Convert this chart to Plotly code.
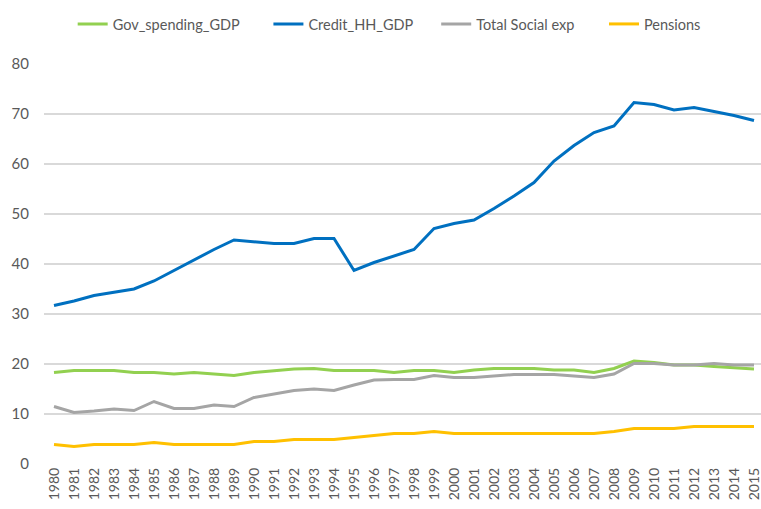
import plotly.graph_objects as go

years = list(range(1980, 2016))

gov_spending_gdp = [18.3, 18.7, 18.7, 18.7, 18.3, 18.3, 18.0, 18.3, 18.0, 17.7,
                    18.3, 18.7, 19.0, 19.1, 18.7, 18.7, 18.7, 18.3, 18.7, 18.7,
                    18.3, 18.8, 19.1, 19.1, 19.1, 18.8, 18.8, 18.3, 19.1, 20.6,
                    20.3, 19.8, 19.8, 19.5, 19.3, 19.0]
credit_hh_gdp = [31.7, 32.6, 33.7, 34.3, 35.0, 36.6, 38.7, 40.8, 42.9, 44.8,
                 44.5, 44.1, 44.1, 45.1, 45.1, 38.7, 40.3, 41.6, 42.9, 47.1,
                 48.1, 48.8, 51.1, 53.6, 56.3, 60.6, 63.7, 66.3, 67.6, 72.3,
                 71.9, 70.8, 71.3, 70.5, 69.7, 68.7]
total_social_exp = [11.5, 10.3, 10.6, 11.0, 10.7, 12.5, 11.1, 11.1, 11.8, 11.5,
                    13.3, 14.0, 14.7, 15.0, 14.7, 15.8, 16.8, 16.9, 16.9, 17.7,
                    17.3, 17.3, 17.6, 17.9, 17.9, 17.9, 17.6, 17.3, 18.0, 20.1,
                    20.1, 19.8, 19.8, 20.1, 19.8, 19.8]
pensions = [3.9, 3.5, 3.9, 3.9, 3.9, 4.3, 3.9, 3.9, 3.9, 3.9,
            4.5, 4.5, 4.9, 4.9, 4.9, 5.3, 5.7, 6.1, 6.1, 6.5,
            6.1, 6.1, 6.1, 6.1, 6.1, 6.1, 6.1, 6.1, 6.5, 7.1,
            7.1, 7.1, 7.5, 7.5, 7.5, 7.5]

series = [
    ("Gov_spending_GDP", gov_spending_gdp, "#92D050"),
    ("Credit_HH_GDP", credit_hh_gdp, "#0070C0"),
    ("Total Social exp", total_social_exp, "#A5A5A5"),
    ("Pensions", pensions, "#FFC000"),
]
legend_x = [0.04, 0.313, 0.547, 0.781]

fig = go.Figure()
legend_layout = {}
for i, (name, vals, color) in enumerate(series):
    key = "legend" if i == 0 else f"legend{i + 1}"
    fig.add_trace(go.Scatter(x=years, y=vals, name=name, mode="lines",
                             line=dict(color=color, width=3), legend=key))
    legend_layout[key] = dict(orientation="h", x=legend_x[i], xanchor="left",
                              y=1.1, yanchor="middle", itemwidth=30,
                              font=dict(size=14.5, color="#595959"))

fig.update_layout(
    width=761, height=509,
    margin=dict(l=44, r=0, t=64, b=45, autoexpand=False),
    paper_bgcolor="white", plot_bgcolor="white",
    font=dict(family="Lato, Liberation Sans, sans-serif", color="#595959", size=14),
    showlegend=True,
    **legend_layout,
)
fig.update_xaxes(range=[1979.5, 2015.35], tickmode="linear", dtick=1, tick0=1980,
                 tickangle=-90, showgrid=False, zeroline=False, showline=False,
                 ticks="", automargin=False, ticklabeloverflow="allow",
                 tickfont=dict(size=14, color="#595959"))
fig.update_yaxes(range=[0, 80], dtick=10, showgrid=True, gridcolor="#D9D9D9",
                 gridwidth=1.5, zeroline=False, showline=False, ticks="",
                 automargin=False,
                 tickfont=dict(size=15, color="#595959"), ticklabelstandoff=14)

fig.write_html(
    "out.html",
    config={"displayModeBar": False},
    post_script="document.body.style.margin='0';document.body.style.overflow='hidden';",
)
